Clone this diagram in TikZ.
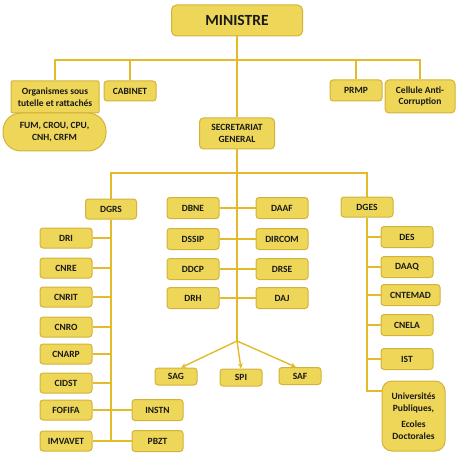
\documentclass[tikz,border=0pt]{standalone}
\usepackage{fontspec}
\setmainfont{Carlito}
\usetikzlibrary{arrows.meta}
\definecolor{boxfill}{RGB}{237,214,88}
\definecolor{boxline}{RGB}{212,178,58}
\definecolor{linkcol}{RGB}{226,186,42}
\definecolor{txt}{RGB}{25,25,25}
\tikzset{
  box/.style={draw=boxline, line width=1pt, fill=boxfill, rounded corners=3pt,
    inner sep=0pt, align=center, font=\bfseries\fontsize{9.5}{11.5}\selectfont, text=txt},
  link/.style={draw=linkcol, line width=2pt},
  arr/.style={draw=linkcol, line width=1.4pt, -{Stealth[length=5pt,width=5pt]}}
}
\begin{document}
\begin{tikzpicture}[x=1pt,y=-1pt]
\useasboundingbox (0,0) rectangle (458,470);
% top level
\node[box, minimum width=131pt, minimum height=31pt, rounded corners=5pt,
  font=\bfseries\fontsize{15.5}{18}\selectfont] (min) at (237,20.5) {MINISTRE};
\node[box, minimum width=88pt, minimum height=32pt, rounded corners=1pt] (org) at (55,97) {Organismes sous\\tutelle et rattachés};
\node[box, minimum width=103pt, minimum height=38pt, rounded corners=18pt] (fum) at (54.5,132) {FUM, CROU, CPU,\\CNH, CRFM};
\node[box, minimum width=52pt, minimum height=20pt] (cab) at (130,91) {CABINET};
\node[box, minimum width=52pt, minimum height=21pt] (prmp) at (356,90.5) {PRMP};
\node[box, minimum width=70pt, minimum height=33pt, rounded corners=4pt] (cell) at (420,96.5) {Cellule Anti-\\Corruption};
\node[box, minimum width=75pt, minimum height=31pt, rounded corners=4pt] (sg) at (237,133.5) {SECRETARIAT\\GENERAL};
\coordinate (bus) at (0,60);
\coordinate (bus2) at (0,173);
\coordinate (br) at (237,341);
% DGRS column
\node[box, minimum width=51pt, minimum height=20pt] (dgrs) at (111,209) {DGRS};
\foreach \n/\t/\y in {dri/DRI/238, cnre/CNRE/268, cnrit/CNRIT/297, cnro/CNRO/327,
  cnarp/CNARP/354, cidst/CIDST/383, fofifa/FOFIFA/410, imvavet/IMVAVET/441}
  \node[box, minimum width=52pt, minimum height=20pt] (\n) at (66,\y) {\t};
\node[box, minimum width=51pt, minimum height=21pt] (instn) at (157.5,410) {INSTN};
\node[box, minimum width=51pt, minimum height=21pt] (pbzt) at (157.5,441) {PBZT};
% middle
\foreach \n/\t/\y in {dbne/DBNE/208, dssip/DSSIP/239, ddcp/DDCP/269, drh/DRH/298}
  \node[box, minimum width=52pt, minimum height=21pt] (\n) at (193,\y) {\t};
\foreach \n/\t/\y in {daaf/DAAF/208, dircom/DIRCOM/239, drse/DRSE/269, daj/DAJ/298}
  \node[box, minimum width=52pt, minimum height=21pt] (\n) at (282,\y) {\t};
\node[box, minimum width=42pt, minimum height=17pt] (sag) at (176,376.5) {SAG};
\node[box, minimum width=42pt, minimum height=17pt] (spi) at (241,377.5) {SPI};
\node[box, minimum width=42pt, minimum height=17pt] (saf) at (300,376) {SAF};
% DGES column
\node[box, minimum width=52pt, minimum height=20pt] (dges) at (367,207) {DGES};
\foreach \n/\t/\y in {des/DES/237, daaq/DAAQ/267, cnela/CNELA/325, ist/IST/359}
  \node[box, minimum width=52pt, minimum height=21pt] (\n) at (407,\y) {\t};
\node[box, minimum width=59pt, minimum height=21pt] (cntemad) at (410.5,295) {CNTEMAD};
\node[box, minimum width=63pt, minimum height=70pt, rounded corners=10pt] (univ) at (413.5,416)
  {Universités\\Publiques,\\[5pt]Ecoles\\Doctorales};
% connectors top
\draw[link] (org.north) |- (bus -| cell.north) -- (cell.north);
\draw[link] (cab.north) -- (cab.north |- bus);
\draw[link] (prmp.north) -- (prmp.north |- bus);
\draw[link] (min.south) -- (sg.north);
\draw[link] (dgrs.north) |- (bus2 -| dges.north) -- (dges.north);
\draw[link] (sg.south) -- (br);
% middle rows
\foreach \a/\b in {dbne/daaf, dssip/dircom, ddcp/drse, drh/daj}
  \draw[link] (\a.east) -- (\b.west);
\draw[arr] (br) -- (sag.60);
\draw[arr] (br) -- (spi.north);
\draw[arr] (br) -- (saf.115);
% DGRS trunk
\draw[link] (dgrs.south) -- (dgrs.south |- pbzt.west);
\foreach \n in {dri, cnre, cnrit, cnro, cnarp, cidst}
  \draw[link] (\n.east) -- (\n.east -| dgrs.south);
\draw[link] (fofifa.east) -- (instn.west);
\draw[link] (imvavet.east) -- (pbzt.west);
% DGES trunk
\draw[link] (dges.south) |- ([yshift=25pt]univ.west);
\foreach \n in {des, daaq, cntemad, cnela, ist}
  \draw[link] (\n.west) -- (\n.west -| dges.south);
\end{tikzpicture}
\end{document}
